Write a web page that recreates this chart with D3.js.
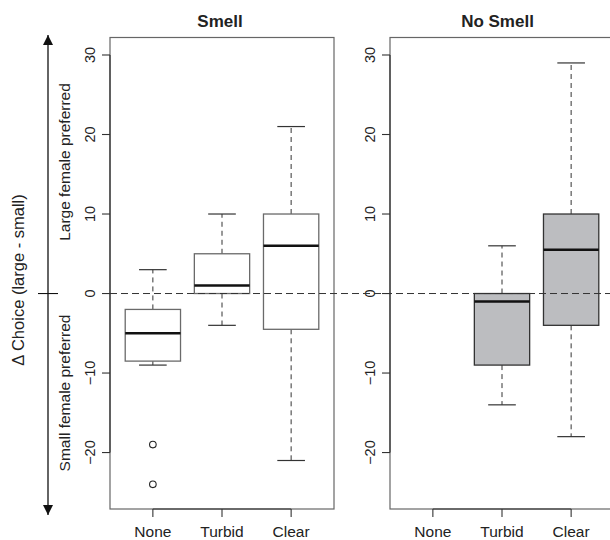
<!DOCTYPE html>
<html>
<head>
<meta charset="utf-8">
<script src="https://cdn.jsdelivr.net/npm/d3@7"></script>
<style>
  body { margin: 0; background: #fff; }
  text { font-family: "Liberation Sans", Arial, Helvetica, sans-serif; fill: #222; }
</style>
</head>
<body>
<div id="chart"></div>
<script>
// categories and tick labels
const groups = ["None", "Turbid", "Clear"];
const yTicks = [-20, -10, 0, 10, 20, 30];

// Smell panel: whisker ends, quartiles, medians, outliers
const smellLow = [-9, -4, -21];
const smellQ1 = [-8.5, 0, -4.5];
const smellMed = [-5, 1, 6];
const smellQ3 = [-2, 5, 10];
const smellHigh = [3, 10, 21];
const smellOutliers = [[-19, -24], [], []];

// No Smell panel (no data for "None")
const noSmellLow = [null, -14, -18];
const noSmellQ1 = [null, -9, -4];
const noSmellMed = [null, -1, 5.5];
const noSmellQ3 = [null, 0, 10];
const noSmellHigh = [null, 6, 29];
const noSmellOutliers = [[], [], []];

const W = 610, H = 540;
const plotTop = 37.5, plotBottom = 509, plotW = 224;

const svg = d3.select("#chart").append("svg").attr("width", W).attr("height", H);

const y = d3.scaleLinear().domain([-27.1, 32.2]).range([plotBottom, plotTop]);
const fmt = d3.format("d");

function panel(left, title, titleX, low, q1, med, q3, high, outl, opts) {
  const x = d3.scaleLinear().domain([0.38, 3.62]).range([left, left + plotW]);
  const g = svg.append("g");
  const u = x(1) - x(0);

  // plot frame
  g.append("rect").attr("x", left).attr("y", plotTop).attr("width", plotW).attr("height", plotBottom - plotTop)
    .attr("fill", "none").attr("stroke", "#666").attr("stroke-width", 1.2);

  groups.forEach((name, i) => {
    if (med[i] == null) return;
    const cx = x(i + 1);
    const bw = 0.8 * u, sw = 0.4 * u;
    // whiskers
    g.append("line").attr("x1", cx).attr("x2", cx).attr("y1", y(q3[i])).attr("y2", y(high[i]))
      .attr("stroke", "#333").attr("stroke-dasharray", "5,4");
    g.append("line").attr("x1", cx).attr("x2", cx).attr("y1", y(q1[i])).attr("y2", y(low[i]))
      .attr("stroke", "#333").attr("stroke-dasharray", "5,4");
    [low[i], high[i]].forEach(v => {
      g.append("line").attr("x1", cx - sw / 2).attr("x2", cx + sw / 2).attr("y1", y(v)).attr("y2", y(v))
        .attr("stroke", "#333").attr("stroke-width", 1.2);
    });
    g.append("rect").attr("x", cx - bw / 2).attr("width", bw)
      .attr("y", y(q3[i])).attr("height", y(q1[i]) - y(q3[i]))
      .attr("fill", opts.fill).attr("stroke", opts.stroke).attr("stroke-width", 1.3);
    g.append("line").attr("x1", cx - bw / 2).attr("x2", cx + bw / 2).attr("y1", y(med[i])).attr("y2", y(med[i]))
      .attr("stroke", "#111").attr("stroke-width", 2.6);
    outl[i].forEach(v => {
      g.append("circle").attr("cx", cx).attr("cy", y(v)).attr("r", 3.3)
        .attr("fill", "none").attr("stroke", "#222").attr("stroke-width", 1.1);
    });
  });

  // y axis
  g.append("line").attr("x1", left).attr("x2", left).attr("y1", y(-20)).attr("y2", y(30))
    .attr("stroke", "#333").attr("stroke-width", 1.2);
  yTicks.forEach(t => {
    g.append("line").attr("x1", left - 8).attr("x2", left).attr("y1", y(t)).attr("y2", y(t))
      .attr("stroke", "#333").attr("stroke-width", 1.1);
    g.append("text").attr("transform", `translate(${left - 15},${y(t)}) rotate(-90)`)
      .attr("text-anchor", "middle").attr("font-size", 14.5).text(fmt(t));
  });

  // x axis
  g.append("line").attr("x1", x(1)).attr("x2", x(3)).attr("y1", plotBottom).attr("y2", plotBottom)
    .attr("stroke", "#333").attr("stroke-width", 1.2);
  groups.forEach((name, i) => {
    g.append("line").attr("x1", x(i + 1)).attr("x2", x(i + 1)).attr("y1", plotBottom).attr("y2", plotBottom + 8)
      .attr("stroke", "#333").attr("stroke-width", 1.1);
    g.append("text").attr("x", x(i + 1)).attr("y", 537).attr("text-anchor", "middle")
      .attr("font-size", 15.5).text(name);
  });

  svg.append("text").attr("x", titleX).attr("y", 26.5).attr("text-anchor", "middle")
    .attr("font-size", 17).attr("font-weight", "bold").text(title);
}

panel(110, "Smell", 220, smellLow, smellQ1, smellMed, smellQ3, smellHigh, smellOutliers,
  { fill: "#fff", stroke: "#6a6a6a" });
panel(390, "No Smell", 497.5, noSmellLow, noSmellQ1, noSmellMed, noSmellQ3, noSmellHigh, noSmellOutliers,
  { fill: "#bcbdc0", stroke: "#333" });

// zero reference line across both panels
svg.append("line").attr("x1", 110).attr("x2", W).attr("y1", y(0)).attr("y2", y(0))
  .attr("stroke", "#333").attr("stroke-dasharray", "7,4");

// left annotation: double arrow and labels
const ax = 48;
svg.append("defs").append("marker").attr("id", "head")
  .attr("viewBox", "0 0 10 10").attr("refX", 10).attr("refY", 5)
  .attr("markerWidth", 10).attr("markerHeight", 10).attr("markerUnits", "userSpaceOnUse")
  .attr("orient", "auto-start-reverse")
  .append("path").attr("d", "M0,0 L10,5 L0,10 Z").attr("fill", "#111");
svg.append("line").attr("x1", ax).attr("x2", ax).attr("y1", 35).attr("y2", 515)
  .attr("stroke", "#111").attr("stroke-width", 1.3)
  .attr("marker-start", "url(#head)").attr("marker-end", "url(#head)");
svg.append("line").attr("x1", 38).attr("x2", 58).attr("y1", y(0)).attr("y2", y(0))
  .attr("stroke", "#111").attr("stroke-width", 1.1);

svg.append("text").attr("transform", "translate(23.5,280) rotate(-90)")
  .attr("text-anchor", "middle").attr("font-size", 16.5).text("\u0394 Choice (large - small)");
svg.append("text").attr("transform", "translate(69.5,162) rotate(-90)")
  .attr("text-anchor", "middle").attr("font-size", 15.5).text("Large female preferred");
svg.append("text").attr("transform", "translate(69.5,393) rotate(-90)")
  .attr("text-anchor", "middle").attr("font-size", 15.5).text("Small female preferred");
</script>
</body>
</html>
